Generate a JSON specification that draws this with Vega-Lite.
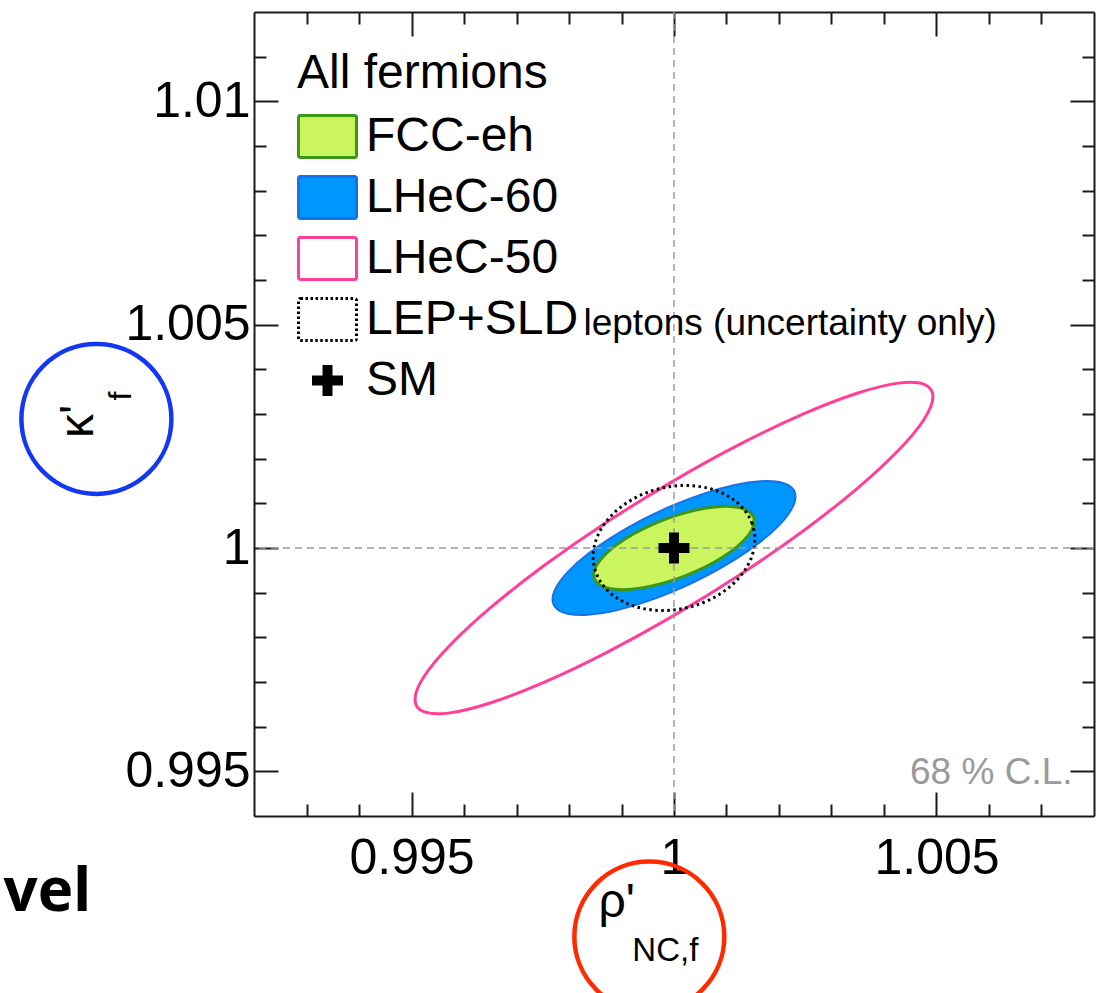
{
  "$schema": "https://vega.github.io/schema/vega-lite/v6.json",
  "width": 840,
  "height": 804,
  "autosize": {"type": "none"},
  "padding": {"left": 254, "top": 12, "right": 6, "bottom": 177},
  "background": "#ffffff",
  "config": {
    "view": {"stroke": null},
    "font": "Liberation Sans",
    "text": {"font": "Liberation Sans", "color": "#000000"}
  },
  "datasets": {
    "ellipses": [
      {"series": "LHeC-50", "i": 0, "x": 1.004933, "y": 1.003390},
      {"series": "LHeC-50", "i": 1, "x": 1.004765, "y": 1.003665},
      {"series": "LHeC-50", "i": 2, "x": 1.004272, "y": 1.003691},
      {"series": "LHeC-50", "i": 3, "x": 1.003488, "y": 1.003464},
      {"series": "LHeC-50", "i": 4, "x": 1.002467, "y": 1.003002},
      {"series": "LHeC-50", "i": 5, "x": 1.001277, "y": 1.002335},
      {"series": "LHeC-50", "i": 6, "x": 1.000000, "y": 1.001509},
      {"series": "LHeC-50", "i": 7, "x": 0.998723, "y": 1.000581},
      {"series": "LHeC-50", "i": 8, "x": 0.997533, "y": 0.999612},
      {"series": "LHeC-50", "i": 9, "x": 0.996512, "y": 0.998670},
      {"series": "LHeC-50", "i": 10, "x": 0.995728, "y": 0.997819},
      {"series": "LHeC-50", "i": 11, "x": 0.995235, "y": 0.997117},
      {"series": "LHeC-50", "i": 12, "x": 0.995067, "y": 0.996610},
      {"series": "LHeC-50", "i": 13, "x": 0.995235, "y": 0.996335},
      {"series": "LHeC-50", "i": 14, "x": 0.995728, "y": 0.996309},
      {"series": "LHeC-50", "i": 15, "x": 0.996512, "y": 0.996536},
      {"series": "LHeC-50", "i": 16, "x": 0.997533, "y": 0.996998},
      {"series": "LHeC-50", "i": 17, "x": 0.998723, "y": 0.997665},
      {"series": "LHeC-50", "i": 18, "x": 1.000000, "y": 0.998491},
      {"series": "LHeC-50", "i": 19, "x": 1.001277, "y": 0.999419},
      {"series": "LHeC-50", "i": 20, "x": 1.002467, "y": 1.000388},
      {"series": "LHeC-50", "i": 21, "x": 1.003488, "y": 1.001330},
      {"series": "LHeC-50", "i": 22, "x": 1.004272, "y": 1.002181},
      {"series": "LHeC-50", "i": 23, "x": 1.004765, "y": 1.002883},

      {"series": "LHeC-60", "i": 0, "x": 1.002314, "y": 1.001149},
      {"series": "LHeC-60", "i": 1, "x": 1.002235, "y": 1.001359},
      {"series": "LHeC-60", "i": 2, "x": 1.002004, "y": 1.001477},
      {"series": "LHeC-60", "i": 3, "x": 1.001636, "y": 1.001494},
      {"series": "LHeC-60", "i": 4, "x": 1.001157, "y": 1.001409},
      {"series": "LHeC-60", "i": 5, "x": 1.000599, "y": 1.001228},
      {"series": "LHeC-60", "i": 6, "x": 1.000000, "y": 1.000964},
      {"series": "LHeC-60", "i": 7, "x": 0.999401, "y": 1.000634},
      {"series": "LHeC-60", "i": 8, "x": 0.998843, "y": 1.000260},
      {"series": "LHeC-60", "i": 9, "x": 0.998364, "y": 0.999870},
      {"series": "LHeC-60", "i": 10, "x": 0.997996, "y": 0.999487},
      {"series": "LHeC-60", "i": 11, "x": 0.997765, "y": 0.999139},
      {"series": "LHeC-60", "i": 12, "x": 0.997686, "y": 0.998851},
      {"series": "LHeC-60", "i": 13, "x": 0.997765, "y": 0.998641},
      {"series": "LHeC-60", "i": 14, "x": 0.997996, "y": 0.998523},
      {"series": "LHeC-60", "i": 15, "x": 0.998364, "y": 0.998506},
      {"series": "LHeC-60", "i": 16, "x": 0.998843, "y": 0.998591},
      {"series": "LHeC-60", "i": 17, "x": 0.999401, "y": 0.998772},
      {"series": "LHeC-60", "i": 18, "x": 1.000000, "y": 0.999036},
      {"series": "LHeC-60", "i": 19, "x": 1.000599, "y": 0.999366},
      {"series": "LHeC-60", "i": 20, "x": 1.001157, "y": 0.999740},
      {"series": "LHeC-60", "i": 21, "x": 1.001636, "y": 1.000130},
      {"series": "LHeC-60", "i": 22, "x": 1.002004, "y": 1.000513},
      {"series": "LHeC-60", "i": 23, "x": 1.002235, "y": 1.000861},

      {"series": "FCC-eh", "i": 0, "x": 1.001530, "y": 1.000600},
      {"series": "FCC-eh", "i": 1, "x": 1.001478, "y": 1.000765},
      {"series": "FCC-eh", "i": 2, "x": 1.001325, "y": 1.000877},
      {"series": "FCC-eh", "i": 3, "x": 1.001082, "y": 1.000930},
      {"series": "FCC-eh", "i": 4, "x": 1.000765, "y": 1.000919},
      {"series": "FCC-eh", "i": 5, "x": 1.000396, "y": 1.000846},
      {"series": "FCC-eh", "i": 6, "x": 1.000000, "y": 1.000715},
      {"series": "FCC-eh", "i": 7, "x": 0.999604, "y": 1.000536},
      {"series": "FCC-eh", "i": 8, "x": 0.999235, "y": 1.000319},
      {"series": "FCC-eh", "i": 9, "x": 0.998918, "y": 1.000082},
      {"series": "FCC-eh", "i": 10, "x": 0.998675, "y": 0.999838},
      {"series": "FCC-eh", "i": 11, "x": 0.998522, "y": 0.999605},
      {"series": "FCC-eh", "i": 12, "x": 0.998470, "y": 0.999400},
      {"series": "FCC-eh", "i": 13, "x": 0.998522, "y": 0.999235},
      {"series": "FCC-eh", "i": 14, "x": 0.998675, "y": 0.999123},
      {"series": "FCC-eh", "i": 15, "x": 0.998918, "y": 0.999070},
      {"series": "FCC-eh", "i": 16, "x": 0.999235, "y": 0.999081},
      {"series": "FCC-eh", "i": 17, "x": 0.999604, "y": 0.999154},
      {"series": "FCC-eh", "i": 18, "x": 1.000000, "y": 0.999285},
      {"series": "FCC-eh", "i": 19, "x": 1.000396, "y": 0.999464},
      {"series": "FCC-eh", "i": 20, "x": 1.000765, "y": 0.999681},
      {"series": "FCC-eh", "i": 21, "x": 1.001082, "y": 0.999918},
      {"series": "FCC-eh", "i": 22, "x": 1.001325, "y": 1.000162},
      {"series": "FCC-eh", "i": 23, "x": 1.001478, "y": 1.000395},

      {"series": "LEP+SLD", "i": 0, "x": 1.001540, "y": 1.000195},
      {"series": "LEP+SLD", "i": 1, "x": 1.001487, "y": 1.000547},
      {"series": "LEP+SLD", "i": 2, "x": 1.001334, "y": 1.000862},
      {"series": "LEP+SLD", "i": 3, "x": 1.001089, "y": 1.001118},
      {"series": "LEP+SLD", "i": 4, "x": 1.000770, "y": 1.001298},
      {"series": "LEP+SLD", "i": 5, "x": 1.000399, "y": 1.001389},
      {"series": "LEP+SLD", "i": 6, "x": 1.000000, "y": 1.001386},
      {"series": "LEP+SLD", "i": 7, "x": 0.999601, "y": 1.001289},
      {"series": "LEP+SLD", "i": 8, "x": 0.999230, "y": 1.001103},
      {"series": "LEP+SLD", "i": 9, "x": 0.998911, "y": 1.000842},
      {"series": "LEP+SLD", "i": 10, "x": 0.998666, "y": 1.000524},
      {"series": "LEP+SLD", "i": 11, "x": 0.998513, "y": 1.000171},
      {"series": "LEP+SLD", "i": 12, "x": 0.998460, "y": 0.999805},
      {"series": "LEP+SLD", "i": 13, "x": 0.998513, "y": 0.999453},
      {"series": "LEP+SLD", "i": 14, "x": 0.998666, "y": 0.999138},
      {"series": "LEP+SLD", "i": 15, "x": 0.998911, "y": 0.998882},
      {"series": "LEP+SLD", "i": 16, "x": 0.999230, "y": 0.998702},
      {"series": "LEP+SLD", "i": 17, "x": 0.999601, "y": 0.998611},
      {"series": "LEP+SLD", "i": 18, "x": 1.000000, "y": 0.998614},
      {"series": "LEP+SLD", "i": 19, "x": 1.000399, "y": 0.998711},
      {"series": "LEP+SLD", "i": 20, "x": 1.000770, "y": 0.998897},
      {"series": "LEP+SLD", "i": 21, "x": 1.001089, "y": 0.999158},
      {"series": "LEP+SLD", "i": 22, "x": 1.001334, "y": 0.999476},
      {"series": "LEP+SLD", "i": 23, "x": 1.001487, "y": 0.999829}
    ],
    "sm": [{"series": "SM", "x": 1, "y": 1}]
  },
  "resolve": {"axis": {"x": "independent", "y": "independent"}},
  "layer": [
    {
      "data": {"name": "ellipses"},
      "transform": [{"filter": "datum.series === 'LHeC-60'"}],
      "mark": {"type": "line", "interpolate": "cardinal-closed", "fill": "#0096ff", "stroke": "#1c70e6", "strokeWidth": 2},
      "encoding": {
        "x": {"field": "x", "type": "quantitative", "scale": {"domain": [0.992, 1.008], "nice": false, "zero": false},
          "axis": {"orient": "bottom", "values": [0.993, 0.994, 0.995, 0.996, 0.997, 0.998, 0.999, 1, 1.001, 1.002, 1.003, 1.004, 1.005, 1.006, 1.007],
            "title": null, "grid": false, "domain": true, "domainColor": "#1a1a1a", "domainWidth": 2,
            "ticks": true, "tickColor": "#1a1a1a", "tickWidth": 2,
            "tickSize": {"condition": {"test": "abs(datum.value*200 - round(datum.value*200)) < 0.01", "value": -24}, "value": -12},
            "labelExpr": "abs(datum.value-0.995) < 1e-9 ? '0.995' : abs(datum.value-1) < 1e-9 ? '1' : abs(datum.value-1.005) < 1e-9 ? '1.005' : ''",
            "labelFont": "Liberation Sans", "labelFontSize": 50, "labelColor": "#000000", "labelPadding": 41, "labelOverlap": false, "labelFlush": false}},
        "y": {"field": "y", "type": "quantitative", "scale": {"domain": [0.994, 1.012], "nice": false, "zero": false},
          "axis": {"orient": "left", "values": [0.995, 0.996, 0.997, 0.998, 0.999, 1, 1.001, 1.002, 1.003, 1.004, 1.005, 1.006, 1.007, 1.008, 1.009, 1.01, 1.011],
            "title": null, "grid": false, "domain": true, "domainColor": "#1a1a1a", "domainWidth": 2,
            "ticks": true, "tickColor": "#1a1a1a", "tickWidth": 2,
            "tickSize": {"condition": {"test": "abs(datum.value*200 - round(datum.value*200)) < 0.01", "value": -24}, "value": -12},
            "labelExpr": "abs(datum.value-0.995) < 1e-9 ? '0.995' : abs(datum.value-1) < 1e-9 ? '1' : abs(datum.value-1.005) < 1e-9 ? '1.005' : abs(datum.value-1.01) < 1e-9 ? '1.01' : ''",
            "labelFont": "Liberation Sans", "labelFontSize": 50, "labelColor": "#000000", "labelPadding": 28, "labelOverlap": false, "labelFlush": false}},
        "order": {"field": "i", "type": "quantitative"}
      }
    },
    {
      "data": {"name": "ellipses"},
      "transform": [{"filter": "datum.series === 'FCC-eh'"}],
      "mark": {"type": "line", "interpolate": "cardinal-closed", "fill": "#cbf55f", "stroke": "#3c9617", "strokeWidth": 3},
      "encoding": {
        "x": {"field": "x", "type": "quantitative", "scale": {"domain": [0.992, 1.008], "nice": false, "zero": false}, "axis": null},
        "y": {"field": "y", "type": "quantitative", "scale": {"domain": [0.994, 1.012], "nice": false, "zero": false}, "axis": null},
        "order": {"field": "i", "type": "quantitative"}
      }
    },
    {
      "data": {"name": "ellipses"},
      "transform": [{"filter": "datum.series === 'LHeC-50'"}],
      "mark": {"type": "line", "interpolate": "cardinal-closed", "stroke": "#ff3f98", "strokeWidth": 3},
      "encoding": {
        "x": {"field": "x", "type": "quantitative", "scale": {"domain": [0.992, 1.008], "nice": false, "zero": false},
          "axis": {"orient": "top", "values": [0.993, 0.994, 0.995, 0.996, 0.997, 0.998, 0.999, 1, 1.001, 1.002, 1.003, 1.004, 1.005, 1.006, 1.007],
            "title": null, "grid": false, "labels": false, "domain": true, "domainColor": "#1a1a1a", "domainWidth": 2,
            "ticks": true, "tickColor": "#1a1a1a", "tickWidth": 2,
            "tickSize": {"condition": {"test": "abs(datum.value*200 - round(datum.value*200)) < 0.01", "value": -24}, "value": -12}}},
        "y": {"field": "y", "type": "quantitative", "scale": {"domain": [0.994, 1.012], "nice": false, "zero": false},
          "axis": {"orient": "right", "values": [0.995, 0.996, 0.997, 0.998, 0.999, 1, 1.001, 1.002, 1.003, 1.004, 1.005, 1.006, 1.007, 1.008, 1.009, 1.01, 1.011],
            "title": null, "grid": false, "labels": false, "domain": true, "domainColor": "#1a1a1a", "domainWidth": 2,
            "ticks": true, "tickColor": "#1a1a1a", "tickWidth": 2,
            "tickSize": {"condition": {"test": "abs(datum.value*200 - round(datum.value*200)) < 0.01", "value": -24}, "value": -12}}},
        "order": {"field": "i", "type": "quantitative"}
      }
    },
    {
      "data": {"name": "ellipses"},
      "transform": [{"filter": "datum.series === 'LEP+SLD'"}],
      "mark": {"type": "line", "interpolate": "cardinal-closed", "stroke": "#000000", "strokeWidth": 3, "strokeDash": [2.5, 3.5], "strokeCap": "butt"},
      "encoding": {
        "x": {"field": "x", "type": "quantitative", "scale": {"domain": [0.992, 1.008], "nice": false, "zero": false}, "axis": null},
        "y": {"field": "y", "type": "quantitative", "scale": {"domain": [0.994, 1.012], "nice": false, "zero": false}, "axis": null},
        "order": {"field": "i", "type": "quantitative"}
      }
    },
    {
      "data": {"values": [{}]},
      "mark": {"type": "rule", "stroke": "#9c9c9c", "strokeWidth": 1.5, "strokeDash": [7, 5]},
      "encoding": {
        "x": {"datum": 1, "type": "quantitative", "scale": {"domain": [0.992, 1.008], "nice": false, "zero": false}, "axis": null}
      }
    },
    {
      "data": {"values": [{}]},
      "mark": {"type": "rule", "stroke": "#9c9c9c", "strokeWidth": 1.5, "strokeDash": [7, 5]},
      "encoding": {
        "y": {"datum": 1, "type": "quantitative", "scale": {"domain": [0.994, 1.012], "nice": false, "zero": false}, "axis": null}
      }
    },
    {
      "data": {"name": "sm"},
      "mark": {"type": "point", "filled": true, "size": 3364, "opacity": 1},
      "encoding": {
        "x": {"field": "x", "type": "quantitative", "scale": {"domain": [0.992, 1.008], "nice": false, "zero": false}, "axis": null},
        "y": {"field": "y", "type": "quantitative", "scale": {"domain": [0.994, 1.012], "nice": false, "zero": false}, "axis": null},
        "fill": {"field": "series", "type": "nominal", "title": "All fermions",
          "scale": {"domain": ["FCC-eh", "LHeC-60", "LHeC-50", "LEP+SLD", "SM"], "range": ["#cbf55f", "#0096ff", "transparent", "transparent", "#000000"]},
          "legend": {"orient": "none", "legendX": 43, "legendY": 38, "padding": 0, "titleFont": "Liberation Sans", "titleFontSize": 48, "titleFontWeight": "normal", "titleColor": "#000000", "titlePadding": 8, "titleLimit": 900, "labelFont": "Liberation Sans", "labelFontSize": 48, "labelColor": "#000000", "labelOffset": 8, "labelLimit": 600, "symbolSize": 3364, "symbolStrokeWidth": 3, "rowPadding": 3}},
        "stroke": {"field": "series", "type": "nominal", "title": "All fermions",
          "scale": {"domain": ["FCC-eh", "LHeC-60", "LHeC-50", "LEP+SLD", "SM"], "range": ["#3c9617", "#1c70e6", "#ff3f98", "#000000", "transparent"]},
          "legend": {"orient": "none", "legendX": 43, "legendY": 38, "padding": 0, "titleFont": "Liberation Sans", "titleFontSize": 48, "titleFontWeight": "normal", "titleColor": "#000000", "titlePadding": 8, "titleLimit": 900, "labelFont": "Liberation Sans", "labelFontSize": 48, "labelColor": "#000000", "labelOffset": 8, "labelLimit": 600, "symbolSize": 3364, "symbolStrokeWidth": 3, "rowPadding": 3}},
        "strokeDash": {"field": "series", "type": "nominal", "title": "All fermions",
          "scale": {"domain": ["FCC-eh", "LHeC-60", "LHeC-50", "LEP+SLD", "SM"], "range": [[1, 0], [1, 0], [1, 0], [2.5, 2.5], [1, 0]]},
          "legend": {"orient": "none", "legendX": 43, "legendY": 38, "padding": 0, "titleFont": "Liberation Sans", "titleFontSize": 48, "titleFontWeight": "normal", "titleColor": "#000000", "titlePadding": 8, "titleLimit": 900, "labelFont": "Liberation Sans", "labelFontSize": 48, "labelColor": "#000000", "labelOffset": 8, "labelLimit": 600, "symbolSize": 3364, "symbolStrokeWidth": 3, "rowPadding": 3}},
        "shape": {"field": "series", "type": "nominal", "title": "All fermions",
          "scale": {"domain": ["FCC-eh", "LHeC-60", "LHeC-50", "LEP+SLD", "SM"], "range": [
            "M-0.93,-0.724H0.93Q1,-0.724,1,-0.654V0.654Q1,0.724,0.93,0.724H-0.93Q-1,0.724,-1,0.654V-0.654Q-1,-0.724,-0.93,-0.724Z",
            "M-0.93,-0.724H0.93Q1,-0.724,1,-0.654V0.654Q1,0.724,0.93,0.724H-0.93Q-1,0.724,-1,0.654V-0.654Q-1,-0.724,-0.93,-0.724Z",
            "M-0.93,-0.724H0.93Q1,-0.724,1,-0.654V0.654Q1,0.724,0.93,0.724H-0.93Q-1,0.724,-1,0.654V-0.654Q-1,-0.724,-0.93,-0.724Z",
            "M-0.93,-0.724H0.93Q1,-0.724,1,-0.654V0.654Q1,0.724,0.93,0.724H-0.93Q-1,0.724,-1,0.654V-0.654Q-1,-0.724,-0.93,-0.724Z",
            "M-0.534,-0.172H-0.172V-0.534H0.172V-0.172H0.534V0.172H0.172V0.534H-0.172V0.172H-0.534Z"]},
          "legend": {"orient": "none", "legendX": 43, "legendY": 38, "padding": 0, "titleFont": "Liberation Sans", "titleFontSize": 48, "titleFontWeight": "normal", "titleColor": "#000000", "titlePadding": 8, "titleLimit": 900, "labelFont": "Liberation Sans", "labelFontSize": 48, "labelColor": "#000000", "labelOffset": 8, "labelLimit": 600, "symbolSize": 3364, "symbolStrokeWidth": 3, "rowPadding": 3}}
      }
    },
    {
      "data": {"values": [{}]},
      "mark": {"type": "text", "text": "leptons (uncertainty only)", "font": "Liberation Sans", "fontSize": 37, "align": "left", "baseline": "alphabetic", "color": "#000000"},
      "encoding": {
        "x": {"datum": 0.998276, "type": "quantitative", "scale": {"domain": [0.992, 1.008], "nice": false, "zero": false}, "axis": null},
        "y": {"datum": 1.004758, "type": "quantitative", "scale": {"domain": [0.994, 1.012], "nice": false, "zero": false}, "axis": null}
      }
    },
    {
      "data": {"values": [{}]},
      "mark": {"type": "text", "text": "68 % C.L.", "font": "Liberation Sans", "fontSize": 37, "align": "right", "baseline": "alphabetic", "color": "#9a9a9a"},
      "encoding": {
        "x": {"datum": 1.007591, "type": "quantitative", "scale": {"domain": [0.992, 1.008], "nice": false, "zero": false}, "axis": null},
        "y": {"datum": 0.994709, "type": "quantitative", "scale": {"domain": [0.994, 1.012], "nice": false, "zero": false}, "axis": null}
      }
    },
    {
      "data": {"values": [{}]},
      "mark": {"type": "text", "text": "κ'", "font": "Liberation Sans", "fontSize": 48, "angle": 270, "align": "center", "baseline": "alphabetic", "color": "#000000"},
      "encoding": {
        "x": {"datum": 0.988941, "type": "quantitative", "scale": {"domain": [0.992, 1.008], "nice": false, "zero": false}, "axis": null},
        "y": {"datum": 1.002834, "type": "quantitative", "scale": {"domain": [0.994, 1.012], "nice": false, "zero": false}, "axis": null}
      }
    },
    {
      "data": {"values": [{}]},
      "mark": {"type": "text", "text": "f", "font": "Liberation Sans", "fontSize": 32, "angle": 270, "align": "center", "baseline": "alphabetic", "color": "#000000"},
      "encoding": {
        "x": {"datum": 0.989663, "type": "quantitative", "scale": {"domain": [0.992, 1.008], "nice": false, "zero": false}, "axis": null},
        "y": {"datum": 1.003404, "type": "quantitative", "scale": {"domain": [0.994, 1.012], "nice": false, "zero": false}, "axis": null}
      }
    },
    {
      "data": {"values": [{}]},
      "mark": {"type": "point", "shape": "circle", "size": 22500, "filled": false, "stroke": "#1238f2", "strokeWidth": 4.5, "opacity": 1},
      "encoding": {
        "x": {"datum": 0.988998, "type": "quantitative", "scale": {"domain": [0.992, 1.008], "nice": false, "zero": false}, "axis": null},
        "y": {"datum": 1.002890, "type": "quantitative", "scale": {"domain": [0.994, 1.012], "nice": false, "zero": false}, "axis": null}
      }
    },
    {
      "data": {"values": [{}]},
      "mark": {"type": "text", "text": "ρ'", "font": "Liberation Sans", "fontSize": 48, "align": "left", "baseline": "alphabetic", "color": "#000000"},
      "encoding": {
        "x": {"datum": 0.998561, "type": "quantitative", "scale": {"domain": [0.992, 1.008], "nice": false, "zero": false}, "axis": null},
        "y": {"datum": 0.991733, "type": "quantitative", "scale": {"domain": [0.994, 1.012], "nice": false, "zero": false}, "axis": null}
      }
    },
    {
      "data": {"values": [{}]},
      "mark": {"type": "text", "text": "NC,f", "font": "Liberation Sans", "fontSize": 33, "align": "left", "baseline": "alphabetic", "color": "#000000"},
      "encoding": {
        "x": {"datum": 0.999207, "type": "quantitative", "scale": {"domain": [0.992, 1.008], "nice": false, "zero": false}, "axis": null},
        "y": {"datum": 0.990747, "type": "quantitative", "scale": {"domain": [0.994, 1.012], "nice": false, "zero": false}, "axis": null}
      }
    },
    {
      "data": {"values": [{}]},
      "mark": {"type": "point", "shape": "circle", "size": 22500, "filled": false, "stroke": "#ff2a00", "strokeWidth": 4.5, "opacity": 1},
      "encoding": {
        "x": {"datum": 0.999530, "type": "quantitative", "scale": {"domain": [0.992, 1.008], "nice": false, "zero": false}, "axis": null},
        "y": {"datum": 0.991300, "type": "quantitative", "scale": {"domain": [0.994, 1.012], "nice": false, "zero": false}, "axis": null}
      }
    },
    {
      "data": {"values": [{}]},
      "mark": {"type": "text", "text": "vel", "font": "Open Sans", "fontWeight": "bold", "fontSize": 60, "align": "right", "baseline": "alphabetic", "color": "#000000"},
      "encoding": {
        "x": {"datum": 0.988903, "type": "quantitative", "scale": {"domain": [0.992, 1.008], "nice": false, "zero": false}, "axis": null},
        "y": {"datum": 0.991867, "type": "quantitative", "scale": {"domain": [0.994, 1.012], "nice": false, "zero": false}, "axis": null}
      }
    }
  ]
}
